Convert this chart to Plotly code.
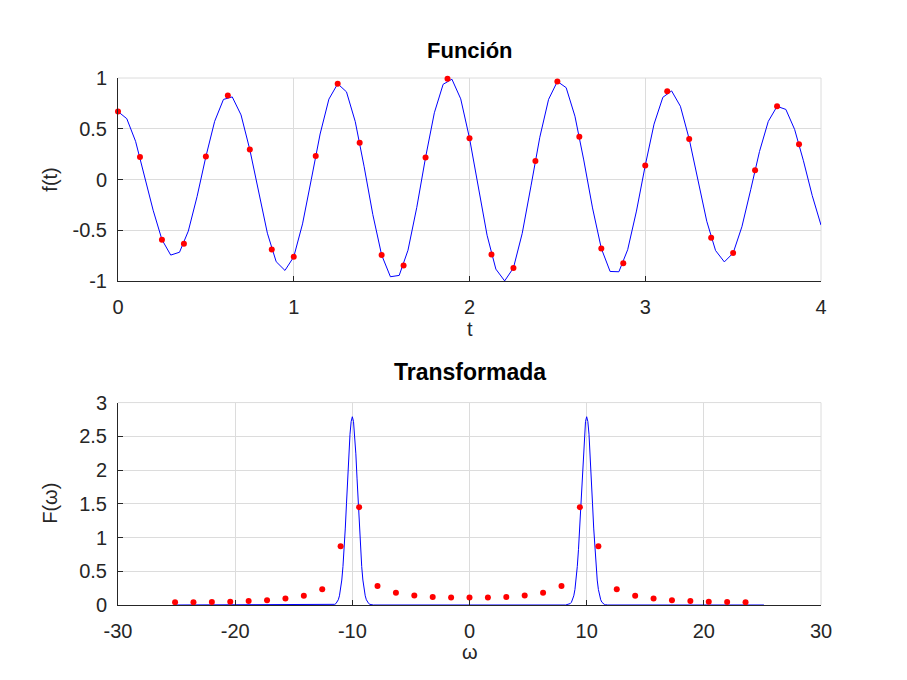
import plotly.graph_objects as go

# --- datos ---
# funcion muestreada (linea azul), paso 0.05
tLine = [0.00, 0.05, 0.10, 0.15, 0.20, 0.25, 0.30, 0.35, 0.40, 0.45,
         0.50, 0.55, 0.60, 0.65, 0.70, 0.75, 0.80, 0.85, 0.90, 0.95,
         1.00, 1.05, 1.10, 1.15, 1.20, 1.25, 1.30, 1.35, 1.40, 1.45,
         1.50, 1.55, 1.60, 1.65, 1.70, 1.75, 1.80, 1.85, 1.90, 1.95,
         2.00, 2.05, 2.10, 2.15, 2.20, 2.25, 2.30, 2.35, 2.40, 2.45,
         2.50, 2.55, 2.60, 2.65, 2.70, 2.75, 2.80, 2.85, 2.90, 2.95,
         3.00, 3.05, 3.10, 3.15, 3.20, 3.25, 3.30, 3.35, 3.40, 3.45,
         3.50, 3.55, 3.60, 3.65, 3.70, 3.75, 3.80, 3.85, 3.90, 3.95, 4.00]
fLine = [0.670, 0.600, 0.377, 0.050, -0.301, -0.590, -0.742, -0.714, -0.506, -0.166,
         0.227, 0.574, 0.789, 0.814, 0.637, 0.296, -0.126, -0.527, -0.807, -0.893,
         -0.759, -0.435, 0.004, 0.449, 0.792, 0.943, 0.864, 0.571, 0.132, -0.344,
         -0.741, -0.955, -0.942, -0.694, -0.273, 0.218, 0.658, 0.938, 0.988, 0.795,
         0.408, -0.080, -0.547, -0.880, -0.996, -0.868, -0.528, -0.061, 0.417, 0.790,
         0.966, 0.905, 0.624, 0.194, -0.278, -0.676, -0.903, -0.906, -0.689, -0.309,
         0.140, 0.546, 0.810, 0.873, 0.722, 0.400, -0.011, -0.409, -0.697, -0.809,
         -0.722, -0.463, -0.099, 0.277, 0.573, 0.721, 0.691, 0.494, 0.186, -0.156, -0.447]

# muestras (puntos rojos), paso 0.125
tSamples = [0.000, 0.125, 0.250, 0.375, 0.500, 0.625, 0.750, 0.875,
            1.000, 1.125, 1.250, 1.375, 1.500, 1.625, 1.750, 1.875,
            2.000, 2.125, 2.250, 2.375, 2.500, 2.625, 2.750, 2.875,
            3.000, 3.125, 3.250, 3.375, 3.500, 3.625, 3.750, 3.875]
fSamples = [0.670, 0.222, -0.590, -0.630, 0.227, 0.827, 0.296, -0.688,
            -0.759, 0.233, 0.943, 0.363, -0.741, -0.845, 0.218, 0.993,
            0.408, -0.736, -0.868, 0.184, 0.966, 0.422, -0.676, -0.823,
            0.140, 0.869, 0.400, -0.572, -0.722, 0.093, 0.721, 0.349]

# transformada continua (linea azul)
wLine = [-25.13, -11.8, -11.6, -11.5, -11.4, -11.3, -11.2, -11.1, -11.0, -10.9,
         -10.8, -10.7, -10.6, -10.5, -10.4, -10.3, -10.2, -10.1, -10.0, -9.9,
         -9.8, -9.7, -9.6, -9.5, -9.4, -9.3, -9.2, -9.1, -9.0, -8.9,
         -8.8, -8.7, -8.6, -8.5, -8.4, -8.2,
         8.2, 8.4, 8.5, 8.6, 8.7, 8.8, 8.9, 9.0, 9.1, 9.2,
         9.3, 9.4, 9.5, 9.6, 9.7, 9.8, 9.9, 10.0, 10.1, 10.2,
         10.3, 10.4, 10.5, 10.6, 10.7, 10.8, 10.9, 11.0, 11.1, 11.2,
         11.3, 11.4, 11.5, 11.6, 11.8, 25.13]
FLine = [0.0, 0.0, 0.005, 0.010, 0.021, 0.041, 0.077, 0.136, 0.23, 0.37,
         0.57, 0.82, 1.14, 1.50, 1.88, 2.24, 2.53, 2.72, 2.79, 2.72,
         2.53, 2.24, 1.88, 1.50, 1.14, 0.82, 0.57, 0.37, 0.23, 0.136,
         0.077, 0.041, 0.021, 0.010, 0.005, 0.0,
         0.0, 0.005, 0.010, 0.021, 0.041, 0.077, 0.136, 0.23, 0.37, 0.57,
         0.82, 1.14, 1.50, 1.88, 2.24, 2.53, 2.72, 2.79, 2.72, 2.53,
         2.24, 1.88, 1.50, 1.14, 0.82, 0.57, 0.37, 0.23, 0.136, 0.077,
         0.041, 0.021, 0.010, 0.005, 0.0, 0.0]

# transformada discreta (puntos rojos)
wSamples = [-25.13, -23.56, -21.99, -20.42, -18.85, -17.28, -15.71, -14.14,
            -12.57, -11.00, -9.42, -7.85, -6.28, -4.71, -3.14, -1.57,
            0.00, 1.57, 3.14, 4.71, 6.28, 7.85, 9.42, 11.00,
            12.57, 14.14, 15.71, 17.28, 18.85, 20.42, 21.99, 23.56]
FSamples = [0.040, 0.042, 0.045, 0.050, 0.059, 0.070, 0.095, 0.137,
            0.233, 0.87, 1.45, 0.28, 0.18, 0.14, 0.12, 0.11,
            0.11, 0.11, 0.12, 0.14, 0.18, 0.28, 1.45, 0.87,
            0.233, 0.137, 0.095, 0.070, 0.059, 0.050, 0.045, 0.042]

# ticks
tTicks = [0, 1, 2, 3, 4]
tTickText = ["0", "1", "2", "3", "4"]
fTicks = [-1, -0.5, 0, 0.5, 1]
fTickText = ["-1", "-0.5", "0", "0.5", "1"]
wTicks = [-30, -20, -10, 0, 10, 20, 30]
wTickText = ["-30", "-20", "-10", "0", "10", "20", "30"]
FTicks = [0, 0.5, 1, 1.5, 2, 2.5, 3]
FTickText = ["0", "0.5", "1", "1.5", "2", "2.5", "3"]

fontName = "Liberation Sans"
axisColor = "#262626"
gridColor = "#dcdcdc"
topDomain = [0.6142, 1]
botDomain = [0, 0.3841]

fig = go.Figure()
fig.add_trace(go.Scatter(x=tLine, y=fLine, mode="lines",
                         line=dict(color="#0000ff", width=1),
                         xaxis="x", yaxis="y"))
fig.add_trace(go.Scatter(x=tSamples, y=fSamples, mode="markers",
                         marker=dict(color="#ff0000", size=6),
                         xaxis="x", yaxis="y", cliponaxis=False))
fig.add_trace(go.Scatter(x=wLine, y=FLine, mode="lines",
                         line=dict(color="#0000ff", width=1),
                         xaxis="x2", yaxis="y2"))
fig.add_trace(go.Scatter(x=wSamples, y=FSamples, mode="markers",
                         marker=dict(color="#ff0000", size=6),
                         xaxis="x2", yaxis="y2", cliponaxis=False))


def AxisStyle(rangeVals, tickVals, tickText, domain, anchor, standoff):
    return dict(range=rangeVals, domain=domain, anchor=anchor,
                tickmode="array", tickvals=tickVals, ticktext=tickText,
                ticks="inside", ticklen=5, tickcolor=axisColor,
                ticklabelstandoff=standoff,
                showline=True, linecolor=axisColor, linewidth=1,
                showgrid=True, gridcolor=gridColor, gridwidth=1,
                zeroline=False, mirror=False,
                tickfont=dict(family=fontName, size=20, color=axisColor))


def Label(text, x, y, xshift, yshift, angle=0, size=20, bold=False, color=axisColor):
    return dict(text="<b>" + text + "</b>" if bold else text,
                x=x, y=y, xref="paper", yref="paper",
                xshift=xshift, yshift=yshift, textangle=angle,
                xanchor="center", yanchor="middle", showarrow=False,
                font=dict(family=fontName, size=size, color=color))


# lineas de rejilla en los bordes superior y derecho (caja abierta de Octave)
edgeShapes = []
for xr, yr in [("x", "y"), ("x2", "y2")]:
    edgeShapes.append(dict(type="line", xref=xr + " domain", yref=yr + " domain",
                           x0=0, x1=1, y0=1, y1=1, layer="below",
                           line=dict(color=gridColor, width=1)))
    edgeShapes.append(dict(type="line", xref=xr + " domain", yref=yr + " domain",
                           x0=1, x1=1, y0=0, y1=1, layer="below",
                           line=dict(color=gridColor, width=1)))

fig.update_layout(
    width=891, height=664,
    paper_bgcolor="white", plot_bgcolor="white",
    showlegend=False,
    margin=dict(l=110, r=78, t=70, b=67),
    xaxis=AxisStyle([0, 4], tTicks, tTickText, [0, 1], "y", 8),
    yaxis=AxisStyle([-1, 1], fTicks, fTickText, topDomain, "x", 6),
    xaxis2=AxisStyle([-30, 30], wTicks, wTickText, [0, 1], "y2", 8),
    yaxis2=AxisStyle([0, 3], FTicks, FTickText, botDomain, "x2", 6),
    shapes=edgeShapes,
    annotations=[
        Label("Función", 0.5, topDomain[1], 0, 27.5, size=22, bold=True, color="black"),
        Label("Transformada", 0.5, botDomain[1], 0, 30.5, size=23, bold=True, color="black"),
        Label("t", 0.5, topDomain[0], 0, -48),
        Label("ω", 0.5, botDomain[0], 0, -47),
        Label("f(t)", 0, (topDomain[0] + topDomain[1]) / 2, -68, 0, angle=-90),
        Label("F(ω)", 0, (botDomain[0] + botDomain[1]) / 2, -68, 0, angle=-90),
    ],
)

fig.write_html("out.html")
